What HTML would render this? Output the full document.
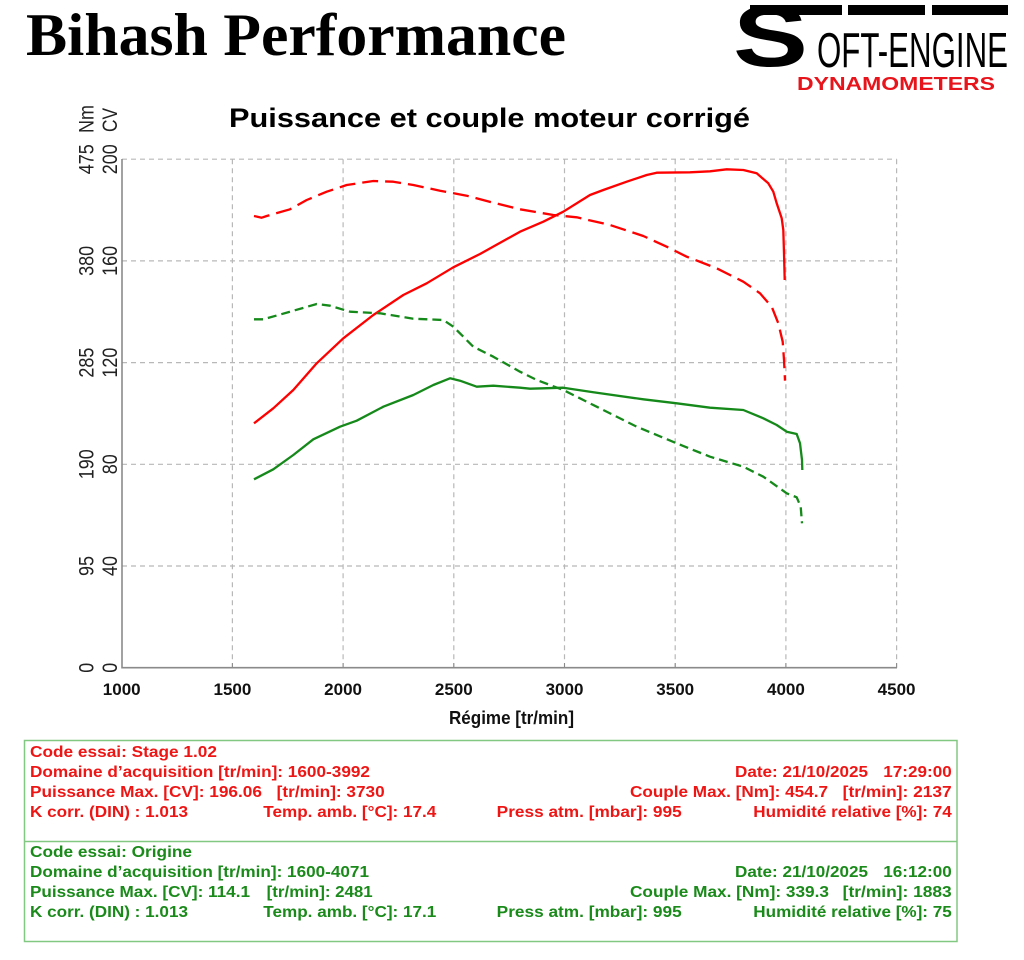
<!DOCTYPE html>
<html>
<head>
<meta charset="utf-8">
<style>
html,body{margin:0;padding:0;background:#fff;}
svg{display:block;}
</style>
</head>
<body>
<svg width="1024" height="960" viewBox="0 0 1024 960" xmlns="http://www.w3.org/2000/svg">
<rect x="0" y="0" width="1024" height="960" fill="#fff"/>

<!-- Main title -->
<text x="26" y="55" font-family="Liberation Serif, serif" font-weight="bold" font-size="60" textLength="540" lengthAdjust="spacingAndGlyphs" fill="#000">Bihash Performance</text>

<!-- Logo -->
<rect x="750" y="5" width="92" height="10" fill="#000"/>
<rect x="848" y="5" width="77" height="10" fill="#000"/>
<rect x="932" y="5" width="76" height="10" fill="#000"/>
<text x="733" y="66" font-family="Liberation Sans, sans-serif" font-weight="bold" font-size="86" textLength="75" lengthAdjust="spacingAndGlyphs" fill="#000">S</text>
<text x="817" y="67" font-family="Liberation Sans, sans-serif" font-size="49" textLength="191" lengthAdjust="spacingAndGlyphs" fill="#000">OFT-ENGINE</text>
<text x="797" y="90" font-family="Liberation Sans, sans-serif" font-weight="bold" font-size="18" textLength="198" lengthAdjust="spacingAndGlyphs" fill="#e8141c">DYNAMOMETERS</text>

<!-- Chart title -->
<text x="229" y="127" font-family="Liberation Sans, sans-serif" font-weight="bold" font-size="27" textLength="521" lengthAdjust="spacingAndGlyphs" fill="#000">Puissance et couple moteur corrigé</text>

<!-- Grid -->
<g stroke="#b8b8b8" stroke-width="1.2" stroke-dasharray="5,4" fill="none">
<line x1="232.4" y1="159.2" x2="232.4" y2="667.7"/>
<line x1="343.1" y1="159.2" x2="343.1" y2="667.7"/>
<line x1="453.8" y1="159.2" x2="453.8" y2="667.7"/>
<line x1="564.5" y1="159.2" x2="564.5" y2="667.7"/>
<line x1="675.2" y1="159.2" x2="675.2" y2="667.7"/>
<line x1="785.9" y1="159.2" x2="785.9" y2="667.7"/>
<line x1="896.6" y1="159.2" x2="896.6" y2="667.7"/>
<line x1="122" y1="159.2" x2="896.6" y2="159.2"/>
<line x1="122" y1="260.9" x2="896.6" y2="260.9"/>
<line x1="122" y1="362.6" x2="896.6" y2="362.6"/>
<line x1="122" y1="464.3" x2="896.6" y2="464.3"/>
<line x1="122" y1="566.0" x2="896.6" y2="566.0"/>
</g>

<!-- Axes -->
<g stroke="#8a8a8a" stroke-width="1.6" fill="none">
<line x1="122" y1="159" x2="122" y2="668.5"/>
<line x1="121.5" y1="667.7" x2="897" y2="667.7"/>
</g>
<g stroke="#8a8a8a" stroke-width="1" fill="none">
<line x1="232.4" y1="663" x2="232.4" y2="667.7"/>
<line x1="343.1" y1="663" x2="343.1" y2="667.7"/>
<line x1="453.8" y1="663" x2="453.8" y2="667.7"/>
<line x1="564.5" y1="663" x2="564.5" y2="667.7"/>
<line x1="675.2" y1="663" x2="675.2" y2="667.7"/>
<line x1="785.9" y1="663" x2="785.9" y2="667.7"/>
<line x1="896.6" y1="663" x2="896.6" y2="667.7"/>
</g>

<!-- X tick labels -->
<g font-family="Liberation Sans, sans-serif" font-weight="bold" font-size="17" fill="#111" text-anchor="middle">
<text x="121.7" y="695">1000</text>
<text x="232.4" y="695">1500</text>
<text x="343.1" y="695">2000</text>
<text x="453.8" y="695">2500</text>
<text x="564.5" y="695">3000</text>
<text x="675.2" y="695">3500</text>
<text x="785.9" y="695">4000</text>
<text x="896.6" y="695">4500</text>
</g>
<text x="449" y="724" font-family="Liberation Sans, sans-serif" font-weight="bold" font-size="18" textLength="125" lengthAdjust="spacingAndGlyphs" fill="#111">Régime [tr/min]</text>

<!-- Y tick labels (rotated) -->
<g font-family="Liberation Sans, sans-serif" font-size="21" fill="#222" text-anchor="middle">
<text transform="translate(93.5,159.2) rotate(-90)" textLength="30" lengthAdjust="spacingAndGlyphs">475</text>
<text transform="translate(93.5,260.9) rotate(-90)" textLength="30" lengthAdjust="spacingAndGlyphs">380</text>
<text transform="translate(93.5,362.6) rotate(-90)" textLength="30" lengthAdjust="spacingAndGlyphs">285</text>
<text transform="translate(93.5,464.3) rotate(-90)" textLength="30" lengthAdjust="spacingAndGlyphs">190</text>
<text transform="translate(93.5,566.0) rotate(-90)" textLength="20" lengthAdjust="spacingAndGlyphs">95</text>
<text transform="translate(93.5,667.7) rotate(-90)" textLength="10" lengthAdjust="spacingAndGlyphs">0</text>
<text transform="translate(117,159.2) rotate(-90)" textLength="30" lengthAdjust="spacingAndGlyphs">200</text>
<text transform="translate(117,260.9) rotate(-90)" textLength="30" lengthAdjust="spacingAndGlyphs">160</text>
<text transform="translate(117,362.6) rotate(-90)" textLength="30" lengthAdjust="spacingAndGlyphs">120</text>
<text transform="translate(117,464.3) rotate(-90)" textLength="20" lengthAdjust="spacingAndGlyphs">80</text>
<text transform="translate(117,566.0) rotate(-90)" textLength="20" lengthAdjust="spacingAndGlyphs">40</text>
<text transform="translate(117,667.7) rotate(-90)" textLength="10" lengthAdjust="spacingAndGlyphs">0</text>
</g>
<g font-family="Liberation Sans, sans-serif" font-size="21" fill="#222" text-anchor="start">
<text transform="translate(93.5,133) rotate(-90)" textLength="28" lengthAdjust="spacingAndGlyphs">Nm</text>
<text transform="translate(117,132) rotate(-90)" textLength="24" lengthAdjust="spacingAndGlyphs">CV</text>
</g>

<!-- Curves -->
<g fill="none" stroke-linejoin="round" stroke-linecap="butt">
<polyline stroke="#ff0000" stroke-width="2.3" stroke-dasharray="16,7" points="254,216 261.7,217.7 266.7,216 290,209.3 306.7,200 326.7,191.7 346.7,185 373.3,181 393.3,181.7 413.3,185 440,190.7 466.7,195.7 493.3,202.7 520,209.3 553.3,215 576.7,217.3 610,225 643.3,236 666.7,246.7 686.7,256.7 716.7,268.3 743.3,281.7 760,293.3 771.7,306.7 778.3,323.3 782.7,341.7 784,360 785,380.7"/>
<polyline stroke="#ff0000" stroke-width="2.3" points="254,423.3 273.3,408.3 293.3,390 316.7,363.3 343.3,338.3 373.3,315 403.3,295 426.7,283.3 453.3,267.3 480,254 520,231.7 543.3,221.7 563.3,211.7 590,195 603.3,190 626.7,181.7 646.7,175 656.7,172.7 690,172.3 710,171.3 726.7,169.3 743.3,170 756.7,173.3 768.3,183.3 773.3,191.7 776.7,203.3 781.7,218.3 783.3,230 784,253.3 784.7,280"/>
<polyline stroke="#15891a" stroke-width="2.3" stroke-dasharray="9,5" points="254,319.3 263.3,319.3 290,311.7 316.7,304 330,305.7 350,311.7 380,313.3 413.3,318.7 443.3,320 453.3,326.7 473.3,346.7 493.3,356.7 520,371.7 536.7,380 563.3,390 596.7,406.7 636.7,426.7 676.7,443.3 710,456.7 743.3,466.7 763.3,476.7 786.7,493.3 796.7,497.3 800.7,506.7 802,523.3"/>
<polyline stroke="#15891a" stroke-width="2.3" points="254,479.3 273.3,469.3 293.3,455 313.3,439.3 340,426.7 356.7,420.7 383.3,406.7 413.3,395 433.3,385 450,378.3 460,380.7 476.7,386.7 493.3,385.7 520,387.7 530,388.7 543.3,388.3 563.3,387.7 593.3,392.3 643.3,399.3 676.7,403.3 710,407.7 743.3,410 763.3,418.3 776.7,425 786.7,431.7 796.7,434 800,443.3 802,460 802.3,470"/>
</g>

<!-- Info box -->
<rect x="24.5" y="740.5" width="932.5" height="201" fill="none" stroke="#82c882" stroke-width="1.5"/>
<line x1="24.5" y1="841.5" x2="957" y2="841.5" stroke="#82c882" stroke-width="1.5"/>

<g font-family="Liberation Sans, sans-serif" font-weight="bold" font-size="16" fill="#ee1515">
<text x="30" y="757" textLength="187" lengthAdjust="spacingAndGlyphs">Code essai: Stage 1.02</text>
<text x="30" y="777" textLength="340" lengthAdjust="spacingAndGlyphs">Domaine d’acquisition [tr/min]: 1600-3992</text>
<text x="30" y="797" textLength="232" lengthAdjust="spacingAndGlyphs">Puissance Max. [CV]: 196.06</text>
<text x="276.7" y="797" textLength="108" lengthAdjust="spacingAndGlyphs">[tr/min]: 3730</text>
<text x="30" y="817" textLength="158" lengthAdjust="spacingAndGlyphs">K corr. (DIN) : 1.013</text>
<text x="263.3" y="817" textLength="173" lengthAdjust="spacingAndGlyphs">Temp. amb. [°C]: 17.4</text>
<text x="735" y="777" textLength="133" lengthAdjust="spacingAndGlyphs">Date: 21/10/2025</text>
<text x="883.3" y="777" textLength="68.4" lengthAdjust="spacingAndGlyphs">17:29:00</text>
<text x="630" y="797" textLength="198" lengthAdjust="spacingAndGlyphs">Couple Max. [Nm]: 454.7</text>
<text x="842.7" y="797" textLength="109" lengthAdjust="spacingAndGlyphs">[tr/min]: 2137</text>
<text x="496.7" y="817" textLength="185" lengthAdjust="spacingAndGlyphs">Press atm. [mbar]: 995</text>
<text x="753.3" y="817" textLength="198.4" lengthAdjust="spacingAndGlyphs">Humidité relative [%]: 74</text>
</g>

<g font-family="Liberation Sans, sans-serif" font-weight="bold" font-size="16" fill="#1a8a1a">
<text x="30" y="857" textLength="162" lengthAdjust="spacingAndGlyphs">Code essai: Origine</text>
<text x="30" y="877" textLength="339" lengthAdjust="spacingAndGlyphs">Domaine d’acquisition [tr/min]: 1600-4071</text>
<text x="30" y="897" textLength="220" lengthAdjust="spacingAndGlyphs">Puissance Max. [CV]: 114.1</text>
<text x="266.7" y="897" textLength="106" lengthAdjust="spacingAndGlyphs">[tr/min]: 2481</text>
<text x="30" y="917" textLength="158" lengthAdjust="spacingAndGlyphs">K corr. (DIN) : 1.013</text>
<text x="263.3" y="917" textLength="173" lengthAdjust="spacingAndGlyphs">Temp. amb. [°C]: 17.1</text>
<text x="735" y="877" textLength="133" lengthAdjust="spacingAndGlyphs">Date: 21/10/2025</text>
<text x="883.3" y="877" textLength="68.4" lengthAdjust="spacingAndGlyphs">16:12:00</text>
<text x="630" y="897" textLength="199" lengthAdjust="spacingAndGlyphs">Couple Max. [Nm]: 339.3</text>
<text x="842.7" y="897" textLength="109" lengthAdjust="spacingAndGlyphs">[tr/min]: 1883</text>
<text x="496.7" y="917" textLength="185" lengthAdjust="spacingAndGlyphs">Press atm. [mbar]: 995</text>
<text x="753.3" y="917" textLength="198.4" lengthAdjust="spacingAndGlyphs">Humidité relative [%]: 75</text>
</g>
</svg>
</body>
</html>
